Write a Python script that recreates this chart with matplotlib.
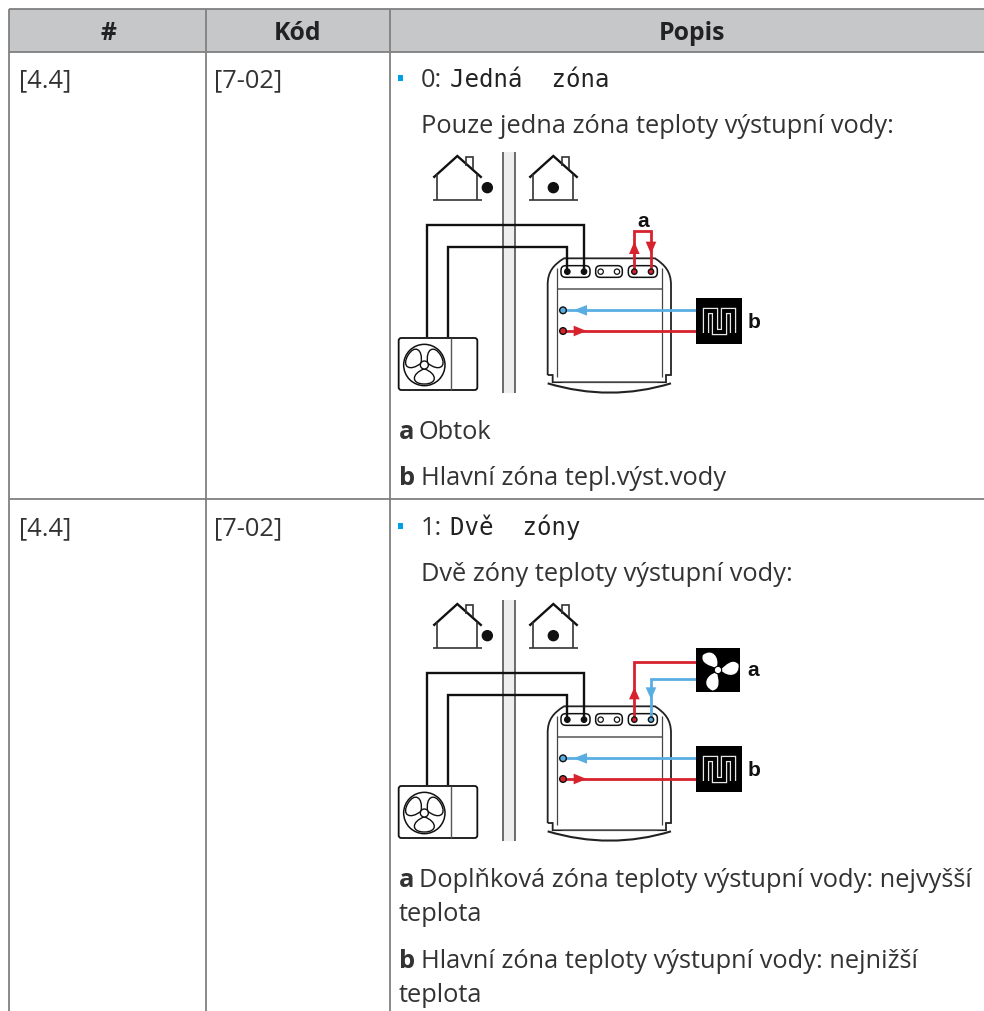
import numpy as np
import matplotlib
matplotlib.use('Agg')
import matplotlib.pyplot as plt
from matplotlib.patches import Rectangle, Circle, FancyBboxPatch, PathPatch, Polygon
from matplotlib.path import Path

W, H = 984, 1011
SANS = 'Open Sans'
TXT = '#333333'
GRID = '#808080'
RED = '#d7222e'
BLUE = '#58aee3'

col_x = [9, 206, 390]
row_y = [9, 52, 499]
headers = ['#', 'Kód', 'Popis']
menu_labels = ['[4.4]', '[4.4]']
code_labels = ['[7-02]', '[7-02]']
option_num = ['0:', '1:']
option_name = ['Jedná  zóna', 'Dvě  zóny']
intro = ['Pouze jedna zóna teploty výstupní vody:', 'Dvě zóny teploty výstupní vody:']

fig = plt.figure(figsize=(W / 100, H / 100), dpi=100)
ax = fig.add_axes([0, 0, 1, 1])
ax.set_xlim(0, W)
ax.set_ylim(H, 0)
ax.axis('off')


def txt(x, y, s, size=18.3, weight='normal', ha='left', fam=SANS, color=TXT):
    ax.text(x, y, s, fontsize=size, fontweight=weight, ha=ha, va='baseline', family=fam, color=color)


def line(xs, ys, ox, oy, color='#111111', lw=1.5, z=3):
    ax.plot([ox + x / 3 for x in xs], [oy + y / 3 for y in ys], color=color, lw=lw, zorder=z,
            solid_joinstyle='miter', solid_capstyle='butt')


def tri(pts, ox, oy, color):
    ax.add_patch(Polygon([(ox + x / 3, oy + y / 3) for x, y in pts], closed=True, fc=color, ec='none', zorder=5))


def dot(x, y, r, ox, oy, fc, ec='#111111', lw=1.0, z=6):
    ax.add_patch(Circle((ox + x / 3, oy + y / 3), r / 3, fc=fc, ec=ec, lw=lw, zorder=z))


def rrect(x0, y0, x1, y1, rad, ox, oy, fc='white', ec='#111111', lw=1.1, z=2.5):
    ax.add_patch(FancyBboxPatch((ox + x0 / 3, oy + y0 / 3), (x1 - x0) / 3, (y1 - y0) / 3,
                                boxstyle=f'round,pad=0,rounding_size={rad / 3}', fc=fc, ec=ec, lw=lw, zorder=z))


def house(dx, ox, oy):
    line([160 + dx, 232 + dx, 305 + dx], [113, 48, 113], ox, oy, lw=1.7)
    line([258 + dx, 258 + dx, 278 + dx, 278 + dx], [78, 52, 52, 88], ox, oy, color='#333333', lw=1.2)
    line([172 + dx, 172 + dx], [103, 180], ox, oy, color='#333333', lw=1.2)
    line([292 + dx, 292 + dx], [103, 180], ox, oy, color='#333333', lw=1.2)
    line([160 + dx, 305 + dx], [180, 180], ox, oy, color='#333333', lw=1.2)


def petals(petal, angles, cx, cy, scale, ox, oy, fc, ec, lw, z=5):
    # one petal, turned round the hub
    codes = [Path.MOVETO, Path.CURVE4, Path.CURVE4, Path.CURVE4, Path.CURVE4, Path.CURVE4, Path.CURVE4]
    for ang in angles:
        a = np.radians(ang)
        c, s = np.cos(a), np.sin(a)
        v = [(ox + (cx + scale * (x * c - y * s)) / 3, oy + (cy + scale * (x * s + y * c)) / 3) for x, y in petal]
        ax.add_patch(PathPatch(Path(v, codes), fc=fc, ec=ec, lw=lw, zorder=z))


def diagram(ox, oy):
    # wall
    ax.add_patch(Rectangle((ox + 368 / 3, oy + 36 / 3), 36 / 3, 722 / 3, fc='#eeeeee', ec='none', zorder=1))
    line([368, 368], [36, 758], ox, oy, color='#444444', lw=1.1, z=2)
    line([404, 404], [36, 758], ox, oy, color='#444444', lw=1.1, z=2)
    house(0, ox, oy)
    house(288, ox, oy)
    dot(322, 143, 15, ox, oy, '#111111')
    dot(520, 143, 15, ox, oy, '#111111')
    # pipes to the outdoor unit
    line([141, 141, 611, 611], [592, 256, 256, 395], ox, oy, lw=1.7)
    line([205, 205, 562, 562], [592, 322, 322, 395], ox, oy, lw=1.7)
    # outdoor unit
    rrect(56, 594, 292, 750, 8, ox, oy, lw=1.3, z=4)
    line([214, 214], [594, 750], ox, oy, color='#555555', lw=1.0, z=5)
    dot(133, 675, 62, ox, oy, 'white', lw=1.1, z=5)
    petal = [(0, -12), (-42, -28), (-42, -60), (0, -60), (42, -60), (42, -28), (0, -12)]
    petals(petal, (60, 180, 300), 133, 675, 0.95, ox, oy, 'white', '#111111', 1.0)
    dot(133, 675, 12, ox, oy, 'white', lw=1.0, z=6)
    # indoor unit
    body = [(503, 705), (503, 435), (503, 395), (520, 375), (552, 355), (825, 355), (855, 375),
            (873, 395), (873, 435), (873, 705), (858, 705), (858, 727), (518, 727), (518, 705), (503, 705)]
    bcodes = [Path.MOVETO, Path.LINETO, Path.CURVE4, Path.CURVE4, Path.CURVE4, Path.LINETO, Path.CURVE4,
              Path.CURVE4, Path.CURVE4, Path.LINETO, Path.LINETO, Path.LINETO, Path.LINETO, Path.LINETO, Path.LINETO]
    ax.add_patch(PathPatch(Path([(ox + x / 3, oy + y / 3) for x, y in body], bcodes), fc='white',
                           ec='#222222', lw=1.3, zorder=2))
    line([532, 845], [446, 446], ox, oy, color='#555555', lw=1.1)
    line([532, 532], [385, 712], ox, oy, color='#444444', lw=0.9)
    line([845, 845], [385, 712], ox, oy, color='#444444', lw=0.9)
    line([545, 832], [726, 726], ox, oy, color='#444444', lw=0.9)
    foot = [(503, 730), (690, 786), (873, 730)]
    ax.add_patch(PathPatch(Path([(ox + x / 3, oy + y / 3) for x, y in foot], [Path.MOVETO, Path.CURVE3, Path.CURVE3]),
                           fc='white', ec='#222222', lw=1.5, zorder=3))
    # port groups
    rrect(543, 377, 630, 412, 14, ox, oy)
    rrect(647, 377, 727, 412, 14, ox, oy)
    rrect(745, 377, 832, 412, 14, ox, oy)
    dot(562, 395, 8, ox, oy, '#111111')
    dot(612, 395, 8, ox, oy, '#111111')
    dot(662, 395, 8, ox, oy, 'white', lw=0.9)
    dot(711, 395, 8, ox, oy, 'white', lw=0.9)
    dot(763, 395, 8, ox, oy, RED)
    # side connections
    line([549, 948], [511, 511], ox, oy, color=BLUE, lw=2, z=4)
    tri([(580, 511), (621, 495), (621, 527)], ox, oy, BLUE)
    line([549, 948], [573, 573], ox, oy, color=RED, lw=2, z=4)
    tri([(620, 573), (581, 557), (581, 589)], ox, oy, RED)
    dot(549, 511, 10, ox, oy, BLUE)
    dot(549, 573, 10, ox, oy, RED)
    # radiant panel
    ax.add_patch(Rectangle((ox + 948 / 3, oy + 474 / 3), 138 / 3, 137 / 3, fc='#000000', ec='none', zorder=5))
    sx = [978, 978, 1005, 1005, 1032, 1032, 1058, 1058]
    sy = [578, 512, 512, 577, 577, 512, 512, 578]
    line(sx, sy, ox, oy, color='#e8e8e8', lw=4.6, z=6)
    line(sx, sy, ox, oy, color='#000000', lw=2.8, z=7)
    txt(ox + 1102 / 3, oy + 563 / 3, 'b', size=15, weight='bold', fam='Liberation Sans', color='#111111')


for i in range(2):
    ax.add_patch(Rectangle((col_x[i], row_y[0]), col_x[i + 1] - col_x[i], row_y[1] - row_y[0], fc='#c6c7c9', ec='none'))
ax.add_patch(Rectangle((col_x[2], row_y[0]), W - col_x[2], row_y[1] - row_y[0], fc='#c6c7c9', ec='none'))
for x in col_x:
    ax.plot([x, x], [row_y[0], H], color=GRID, lw=1.3, solid_capstyle='butt', zorder=2)
for y in [row_y[0], row_y[1], row_y[2]]:
    ax.plot([col_x[0], W], [y, y], color=GRID, lw=1.3, solid_capstyle='butt', zorder=2)

txt(108, 40, headers[0], size=17.8, weight='bold', ha='center', color='#222222')
txt(298, 40, headers[1], size=17.8, weight='bold', ha='center', color='#222222')
txt(692, 40, headers[2], size=17.8, weight='bold', ha='center', color='#222222')

row_top = [0, 448]
for k in range(2):
    t = row_top[k]
    txt(19, 87 + t, menu_labels[k])
    txt(214, 87 + t, code_labels[k])
    ax.add_patch(Rectangle((398, 75 + t), 5, 6, fc='#00a0e4', ec='none'))
    txt(421, 87 + t, option_num[k])
    txt(450, 87 + t, option_name[k], size=17.3, fam='DejaVu Sans Mono', color='#222222')
    txt(421, 133 + t, intro[k])

diagram(380, 140)

# second diagram: two circuits
ox2, oy2 = 380, 588
diagram(ox2, oy2)
dot(813, 395, 8, ox2, oy2, BLUE)
line([763, 763, 948], [395, 223, 223], ox2, oy2, color=RED, lw=2, z=4)
tri([(763, 298), (747, 334), (779, 334)], ox2, oy2, RED)
line([813, 813, 948], [395, 273, 273], ox2, oy2, color=BLUE, lw=2, z=4)
tri([(813, 334), (797, 298), (829, 298)], ox2, oy2, BLUE)
ax.add_patch(Rectangle((ox2 + 948 / 3, oy2 + 180 / 3), 132 / 3, 131 / 3, fc='#000000', ec='none', zorder=5))
swept = [(0, -8), (-14, -26), (-34, -50), (-12, -66), (26, -68), (28, -28), (0, -8)]
petals(swept, (-35, 85, 205), 1014, 246, 0.95, ox2, oy2, 'white', 'none', 0, z=6)
dot(1014, 246, 11, ox2, oy2, 'white', ec='#000000', lw=0.8, z=7)
txt(ox2 + 1102 / 3, oy2 + 263 / 3, 'a', size=15, weight='bold', fam='Liberation Sans', color='#111111')

# first diagram: bypass loop
line([763, 763, 813, 813], [395, 272, 272, 395], 380, 140, color=RED, lw=2, z=4)
tri([(763, 305), (747, 342), (779, 342)], 380, 140, RED)
tri([(813, 342), (797, 305), (829, 305)], 380, 140, RED)
dot(813, 395, 8, 380, 140, RED)
txt(380 + 772 / 3, 140 + 260 / 3, 'a', size=15, weight='bold', fam='Liberation Sans', color='#111111')

txt(399, 439, 'a', weight='bold')
txt(419, 439, 'Obtok')
txt(399, 485, 'b', weight='bold')
txt(421, 485, 'Hlavní zóna tepl.výst.vody')
txt(399, 887, 'a', weight='bold')
txt(419, 887, 'Doplňková zóna teploty výstupní vody: nejvyšší')
txt(399, 921, 'teplota')
txt(399, 968, 'b', weight='bold')
txt(421, 968, 'Hlavní zóna teploty výstupní vody: nejnižší')
txt(399, 1002, 'teplota')

fig.savefig('out.png', dpi=100)
